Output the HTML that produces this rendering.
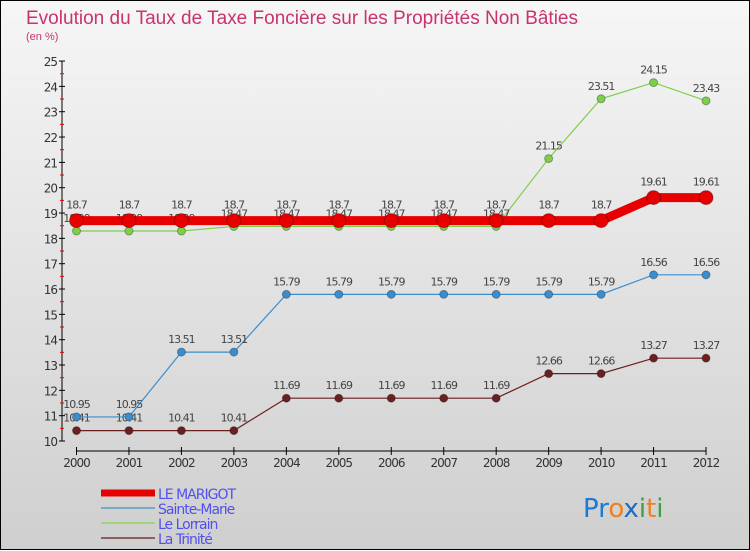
<!DOCTYPE html>
<html><head><meta charset="utf-8"><style>
body{margin:0;width:750px;height:550px;overflow:hidden;font-family:"DejaVu Sans","Liberation Sans",sans-serif}
#wrap{position:relative;width:748px;height:548px;border:1px solid #000;background:linear-gradient(#f6f6f6,#cfcfcf)}
svg{position:absolute;left:0;top:0}
</style></head><body>
<div id="wrap">
<svg id="c" width="750" height="550">
<text x="25" y="23" font-size="19" font-family="Liberation Sans, sans-serif" fill="#c8336f" textLength="552">Evolution du Taux de Taxe Foncière sur les Propriétés Non Bâties</text>
<text x="25" y="39" font-size="11" font-family="Liberation Sans, sans-serif" fill="#c8336f">(en %)</text>
</svg>
</div>
<script>
const years=[2000,2001,2002,2003,2004,2005,2006,2007,2008,2009,2010,2011,2012];
const yTicks=[10,11,12,13,14,15,16,17,18,19,20,21,22,23,24,25];
const marigot=[18.7,18.7,18.7,18.7,18.7,18.7,18.7,18.7,18.7,18.7,18.7,19.61,19.61];
const sainteMarie=[10.95,10.95,13.51,13.51,15.79,15.79,15.79,15.79,15.79,15.79,15.79,16.56,16.56];
const lorrain=[18.29,18.29,18.29,18.47,18.47,18.47,18.47,18.47,18.47,21.15,23.51,24.15,23.43];
const trinite=[10.41,10.41,10.41,10.41,11.69,11.69,11.69,11.69,11.69,12.66,12.66,13.27,13.27];
const names=["LE MARIGOT","Sainte-Marie","Le Lorrain","La Trinité"];
const svg=document.getElementById('c');const NS="http://www.w3.org/2000/svg";
function X(i){return 75.5+i*52.46}
function Y(v){return 440-(v-10)*25.33}
function mk(t,a,p){const e=document.createElementNS(NS,t);for(const k in a)e.setAttribute(k,a[k]);(p||svg).appendChild(e);return e}
let ax=mk('line',{x1:61,y1:60,x2:61,y2:440,stroke:'#000'});


yTicks.forEach(v=>{mk('line',{x1:58,x2:64,y1:Y(v),y2:Y(v),stroke:'#000'});
if(v<25)mk('line',{x1:59,x2:63,y1:Y(v+0.5),y2:Y(v+0.5),stroke:'#e00'});
const t=mk('text',{x:56,y:Y(v)+5,'font-size':12,'text-anchor':'end',fill:'#333','letter-spacing':'-1'});t.textContent=v;

});
let xa=mk('line',{x1:75.5,y1:450,x2:X(12),y2:450,stroke:'#000'});


years.forEach((y,i)=>{mk('line',{x1:X(i),x2:X(i),y1:446,y2:454,stroke:'#000'});
const t=mk('text',{x:X(i),y:466,'font-size':12,'text-anchor':'middle',fill:'#333','letter-spacing':'-1'});t.textContent=y;

});
function series(d,col,w,r,name,dy){
const g=mk('g',{});


mk('polyline',{points:d.map((v,i)=>X(i)+','+Y(v)).join(' '),fill:'none',stroke:col,'stroke-width':w},g);
d.forEach((v,i)=>{const c=mk('circle',{cx:X(i),cy:Y(v),r:r,fill:col,stroke:'rgba(0,0,0,0.3)'},g);


const t=mk('text',{x:X(i),y:Y(v)+dy,'font-size':11,'text-anchor':'middle',fill:'#444','letter-spacing':'-1'},g);t.textContent=v;});}
series(trinite,'#6b2020',1.2,4,'la-trinite',-9);
series(sainteMarie,'#3a8ed0',1.2,4,'sainte-marie',-9);
series(lorrain,'#7ecf4a',1.2,4,'le-lorrain',-9);
series(marigot,'#e80000',9,7,'le-marigot',-12);
const cols=['#e80000','#7ba8c8','#9ed57a','#8a6060'];
names.forEach((n,i)=>{const y=492+i*15;
const g=mk('g',{});


mk('line',{x1:100,x2:154,y1:y,y2:y,stroke:cols[i],'stroke-width':i==0?7:2},g);
const t=mk('text',{x:157,y:y+6,'font-size':14,fill:'#5050f0','letter-spacing':'-1'},g);t.textContent=n;});
const lg=mk('text',{x:582,y:516,'font-size':26});


[['Pr','#1a7ad0'],['o','#f08020'],['x','#1a6ac0'],['i','#40a040'],['t','#f08020'],['i','#40a040']].forEach(([s,c])=>{const ts=mk('tspan',{fill:c},lg);ts.textContent=s;});
</script>
</body></html>
